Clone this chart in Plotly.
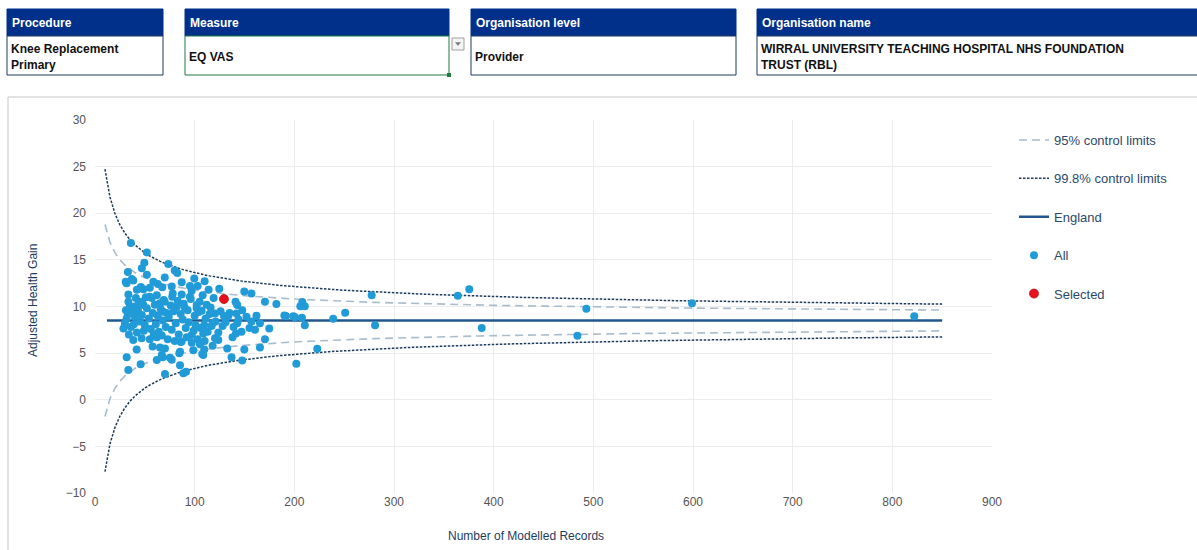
import plotly.graph_objects as go

# ---- selector header -------------------------------------------------------
filter_labels = ["Procedure", "Measure", "Organisation level", "Organisation name"]
filter_values = ["Knee Replacement<br>Primary", "EQ VAS", "Provider",
                 "WIRRAL UNIVERSITY TEACHING HOSPITAL NHS FOUNDATION<br>TRUST (RBL)"]

# ---- funnel plot data ------------------------------------------------------
england_mean = 8.5
england_sd = 16.6
z95 = 1.96
z998 = 3.09
limit_n = list(range(10, 851, 5))

all_records = [
    36, 52, 49.5, 33, 47, 52, 73.5, 80, 82.5, 37, 99.6,
    30.8, 58.5, 67.5, 48.5, 55, 42, 33.5, 41, 47, 62, 55, 65, 33.5, 48.5, 31.7, 38.4,
    124.7, 149.8, 157, 141, 142.7, 147.7, 142, 129.4, 133.7, 115, 107, 170.5, 182,
    191.5, 200.6, 157, 165.5, 142.7, 118, 109.6, 160.5, 174.8, 147, 141.4, 138,
    123.7, 120.4, 123.7, 170.5, 110, 109.6, 132.7, 149.8, 165.5, 137, 147.7, 108.6, 108.6,
    190, 199, 206, 208, 210.5, 207.6, 210.5, 239, 251, 277.6, 281, 223, 202,
    364, 375.5, 388, 493, 484, 599, 822,
    33.4, 31.8, 45.8, 62, 68, 77, 88.6, 91.3, 70.2, 85.3, 98.6, 84.6, 86, 97,
    38.4, 46.8, 55, 57.8, 41.8, 65.2,
    77, 95.3, 95.3, 77.5, 82, 90, 102, 70, 40, 68.5, 31.7, 28.5, 67, 70.2,
    120.4, 102, 87, 97, 105.3, 107.6, 85.3, 75.2,
    35, 38, 40, 43, 45, 47, 50, 52, 54, 56, 58, 60, 61, 63, 64, 66, 68, 69, 71, 72,
    74, 76, 77, 79, 81, 83, 84, 86, 88, 89, 91, 93, 94, 96, 99, 100, 101, 104, 105,
    106, 111, 112, 113, 116, 117, 119, 121, 126, 128, 131, 135, 139, 144, 152, 155, 162,
    33, 36, 39, 42, 44, 49, 51, 57, 59, 62, 67, 73, 78, 80, 87, 92, 97, 103, 108, 114,
    118, 31, 30, 34, 46, 63, 70, 87, 103, 110,
]
all_gain = [
    16.8, 15.8, 14.7, 13.7, 14.1, 13.4, 14.55, 13.85, 13.6, 12.95, 13.0,
    12.66, 12.66, 12.06, 11.85, 12.0, 11.8, 11.3, 10.9, 10.5, 11.2, 11.05, 10.35, 10.5, 10.15, 12.5, 12.8,
    11.9, 11.6, 11.4, 10.5, 10.15, 9.6, 9.25, 8.98, 8.98, 9.2, 9.55, 10.5, 10.27,
    8.98, 8.84, 8.4, 8.2, 8.2, 8.2, 8.0, 7.5, 7.65, 7.3, 7.1, 6.7,
    7.2, 6.6, 6.4, 6.5, 6.3, 5.4, 5.5, 5.4, 5.6, 4.55, 4.2, 4.8, 7.1,
    9.04, 8.96, 10.04, 10.47, 10.04, 8.8, 8.0, 8.68, 9.32, 11.2, 8.0, 5.46, 3.85,
    11.15, 11.86, 7.7, 9.75, 6.86, 10.36, 8.96,
    3.2, 4.55, 3.8, 4.25, 4.55, 4.3, 2.84, 3.0, 2.76, 3.7, 5.3, 5.0, 6.2, 6.1,
    6.4, 6.6, 6.5, 5.7, 5.4, 5.6,
    12.15, 12.2, 11.05, 11.05, 9.95, 9.9, 10.15, 10.5, 10.0, 9.45, 8.7, 7.65, 4.8, 5.5,
    9.25, 9.8, 6.25, 6.95, 5.95, 4.9, 5.15, 4.5,
    10.0, 9.4, 8.9, 9.6, 8.4, 9.1, 8.0, 9.8, 8.7, 7.6, 9.3, 10.2, 8.1, 9.0, 7.3, 9.7, 8.5, 10.7, 7.8, 9.3,
    8.9, 10.1, 7.5, 9.5, 8.2, 10.6, 7.0, 9.2, 8.6, 10.3, 7.7, 9.6, 8.3, 10.8, 7.4, 9.0, 8.0, 9.4, 10.5,
    7.7, 8.7, 10.2, 7.3, 9.9, 7.9, 10.9, 8.4, 9.5, 7.9, 8.3, 9.3, 7.8, 8.6, 8.9, 7.7, 9.0,
    9.2, 7.8, 8.1, 7.2, 10.4, 7.4, 11.0, 10.9, 7.0, 6.7, 6.9, 6.5, 11.4, 6.3, 11.3, 6.7, 11.7, 6.5, 11.2, 11.8,
    5.8, 9.6, 8.2, 7.0, 12.1, 12.4, 13.1, 12.6, 12.2, 12.7,
]
selected_records = [129.4]
selected_gain = [10.8]

x_ticks = [0, 100, 200, 300, 400, 500, 600, 700, 800, 900]
y_ticks = [-10, -5, 0, 5, 10, 15, 20, 25, 30]

# ---- control limits --------------------------------------------------------
def limits(z):
    upper = [england_mean + z * england_sd / n ** 0.5 for n in limit_n]
    lower = [england_mean - z * england_sd / n ** 0.5 for n in limit_n]
    return limit_n + [None] + limit_n, upper + [None] + lower

x95, y95 = limits(z95)
x998, y998 = limits(z998)

NAVY = "#1d3c5e"
FONT = "Liberation Sans, Arial, sans-serif"

fig = go.Figure()
fig.add_trace(go.Scatter(x=x95, y=y95, mode="lines", name="95% control limits",
                         line=dict(color="#a9bccb", width=1.6, dash="8px,5px"),
                         legendgroup="a", hoverinfo="skip"))
fig.add_trace(go.Scatter(x=x998, y=y998, mode="lines", name="99.8% control limits",
                         line=dict(color="#1b3a5c", width=1.5, dash="2.5px,1.5px"),
                         legendgroup="b", hoverinfo="skip"))
fig.add_trace(go.Scatter(x=[limit_n[0] + 2, limit_n[-1]], y=[england_mean, england_mean],
                         mode="lines", name="England",
                         line=dict(color="#22578e", width=2.5),
                         legendgroup="c"))
fig.add_trace(go.Scatter(x=all_records, y=all_gain, mode="markers", name="All",
                         marker=dict(color="#219bd8", size=8), legendgroup="d"))
fig.add_trace(go.Scatter(x=selected_records, y=selected_gain, mode="markers", name="Selected",
                         marker=dict(color="#e8101c", size=9,
                                     line=dict(color="#b3111a", width=0.8)),
                         legendgroup="e"))

# ---- page geometry (pixels) ------------------------------------------------
W, H = 1197, 550
L, R, T, B = 95, 992, 120, 493


def px(xp):
    return (xp - L) / (R - L)


def py(yp):
    return 1 - (yp - T) / (B - T)


shapes = []
annotations = []

# chart panel frame
shapes.append(dict(type="rect", xref="paper", yref="paper",
                   x0=px(8), x1=px(1199), y0=py(551), y1=py(97),
                   line=dict(color="#c6c6c6", width=1), fillcolor="rgba(0,0,0,0)", layer="below"))

box_x = [(7, 163), (185, 449), (471, 736), (757, 1205)]
HEAD_TOP, HEAD_BOT, BODY_BOT = 9, 36, 75
for (x0, x1), lab, val in zip(box_x, filter_labels, filter_values):
    shapes.append(dict(type="rect", xref="paper", yref="paper",
                       x0=px(x0), x1=px(x1), y0=py(HEAD_BOT), y1=py(HEAD_TOP),
                       line=dict(color="#00308a", width=1), fillcolor="#00308a"))
    body_col = "#1f7a47" if lab == "Measure" else "#1d3c5e"
    shapes.append(dict(type="rect", xref="paper", yref="paper",
                       x0=px(x0), x1=px(x1), y0=py(BODY_BOT), y1=py(HEAD_BOT),
                       line=dict(color=body_col, width=1), fillcolor="white"))
    annotations.append(dict(xref="paper", yref="paper", x=px(x0 + 3), y=py(23),
                            xanchor="left", yanchor="middle", showarrow=False,
                            text="<b>" + lab + "</b>",
                            font=dict(family=FONT, size=12, color="white")))
    annotations.append(dict(xref="paper", yref="paper", x=px(x0 + 2), y=py(57),
                            xanchor="left", yanchor="middle", align="left", showarrow=False,
                            text="<b>" + val + "</b>",
                            font=dict(family=FONT, size=12, color="#111111")))

# dropdown button next to the measure cell
shapes.append(dict(type="rect", xref="paper", yref="paper",
                   x0=px(452), x1=px(464), y0=py(50), y1=py(38),
                   line=dict(color="#a0a0a0", width=1), fillcolor="#f4f4f4"))
shapes.append(dict(type="path", xref="paper", yref="paper",
                   path="M {} {} L {} {} L {} {} Z".format(px(455.5), py(42.5), px(460.5), py(42.5),
                                                          px(458), py(45.5)),
                   line=dict(color="#777", width=0.5), fillcolor="#777"))
shapes.append(dict(type="rect", xref="paper", yref="paper",
                   x0=px(447), x1=px(451), y0=py(77), y1=py(73),
                   line=dict(color="#1f7a47", width=0), fillcolor="#1f7a47"))

annotations.append(dict(xref="paper", yref="paper", x=px(33), y=py(300),
                        text="Adjusted Health Gain", textangle=-90, showarrow=False,
                        xanchor="center", yanchor="middle",
                        font=dict(family=FONT, size=12, color=NAVY)))
annotations.append(dict(xref="paper", yref="paper", x=px(526), y=py(536),
                        text="Number of Modelled Records", showarrow=False,
                        xanchor="center", yanchor="middle",
                        font=dict(family=FONT, size=12, color=NAVY)))

fig.update_layout(
    width=W, height=H,
    margin=dict(l=L, r=W - R, t=T, b=H - B),
    paper_bgcolor="white", plot_bgcolor="white",
    font=dict(family=FONT, size=12, color="#555555"),
    shapes=shapes, annotations=annotations,
    showlegend=True,
    legend=dict(x=px(1014), y=py(125), xanchor="left", yanchor="top",
                font=dict(family=FONT, size=13, color="#2b4a6b"),
                tracegroupgap=18.5, bgcolor="rgba(0,0,0,0)"),
    xaxis=dict(range=[0, 900], tickvals=x_ticks, showgrid=True, gridcolor="#ececec",
               zeroline=False, showline=False, ticks="", tickfont=dict(size=12, color="#555555"),
               fixedrange=True),
    yaxis=dict(range=[-10, 30], tickvals=y_ticks, showgrid=True, gridcolor="#ececec",
               zeroline=False, showline=False, ticks="", ticklabelstandoff=8,
               tickfont=dict(size=12, color="#555555"), fixedrange=True),
)

fig.write_html("out.html")
